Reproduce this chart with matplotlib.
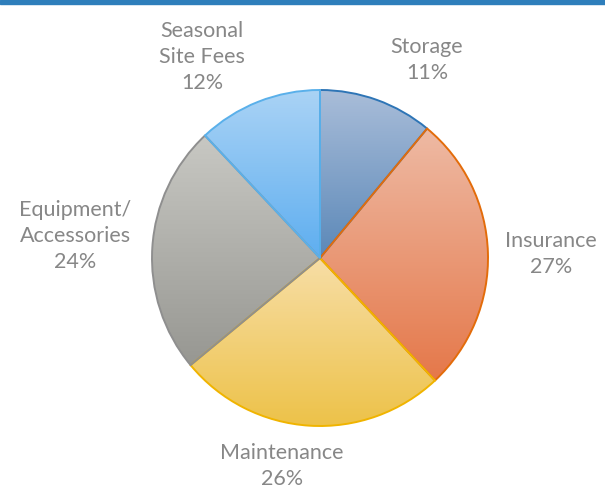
import numpy as np
import matplotlib.pyplot as plt
from matplotlib.colors import LinearSegmentedColormap

# data
labels = ['Storage', 'Insurance', 'Maintenance', 'Equipment/\nAccessories', 'Seasonal\nSite Fees']
shares = [11, 27, 26, 24, 12]

# slice styling: (top colour, bottom colour, edge)
tops = ['#A9BDD9', '#EEBAA4', '#F7DEA6', '#C8C8C3', '#AAD3F5']
bottoms = ['#5B88B8', '#E5784A', '#EDC249', '#979792', '#5EAEF0']
edges = ['#2E75B6', '#E36C0A', '#F0B400', '#8F8F8F', '#5AB0EA']

# label anchor points in pixel space (x, y from top)
label_pos = [(427, 60), (551, 254), (282, 466), (75, 236), (202, 57)]

W, H = 605, 491
fig = plt.figure(figsize=(W / 100, H / 100), dpi=100)
ax = fig.add_axes([0, 0, 1, 1])

cx, cy, r = 320, H - 258, 168
wedges, _ = ax.pie(shares, startangle=90, counterclock=False, center=(cx, cy),
                   radius=r, frame=True,
                   wedgeprops=dict(linewidth=1.4))

grad = np.linspace(0, 1, 256).reshape(-1, 1)
for w, top, bot, ec in zip(wedges, tops, bottoms, edges):
    w.set_facecolor('none')
    w.set_edgecolor(ec)
    w.set_zorder(3)
    bb = w.get_path().get_extents(w.get_patch_transform())
    cmap = LinearSegmentedColormap.from_list('g', [bot, top])
    im = ax.imshow(grad, cmap=cmap, origin='lower', aspect='auto',
                   extent=(bb.x0, bb.x1, bb.y0, bb.y1), zorder=2)
    im.set_clip_path(w)

ax.set_xlim(0, W)
ax.set_ylim(0, H)
ax.set_aspect('equal')
ax.axis('off')

for lab, s, (px, py) in zip(labels, shares, label_pos):
    ax.text(px, H - py, f'{lab}\n{s}%', ha='center', va='center',
            fontsize=15.5, color='#878787', family='Lato', linespacing=1.4)

# blue rule along the top
fig.add_artist(plt.Rectangle((0, 1 - 4 / H), 1, 4 / H, transform=fig.transFigure,
                             color='#2E7EBB', zorder=5))

fig.savefig('out.png', dpi=100)
